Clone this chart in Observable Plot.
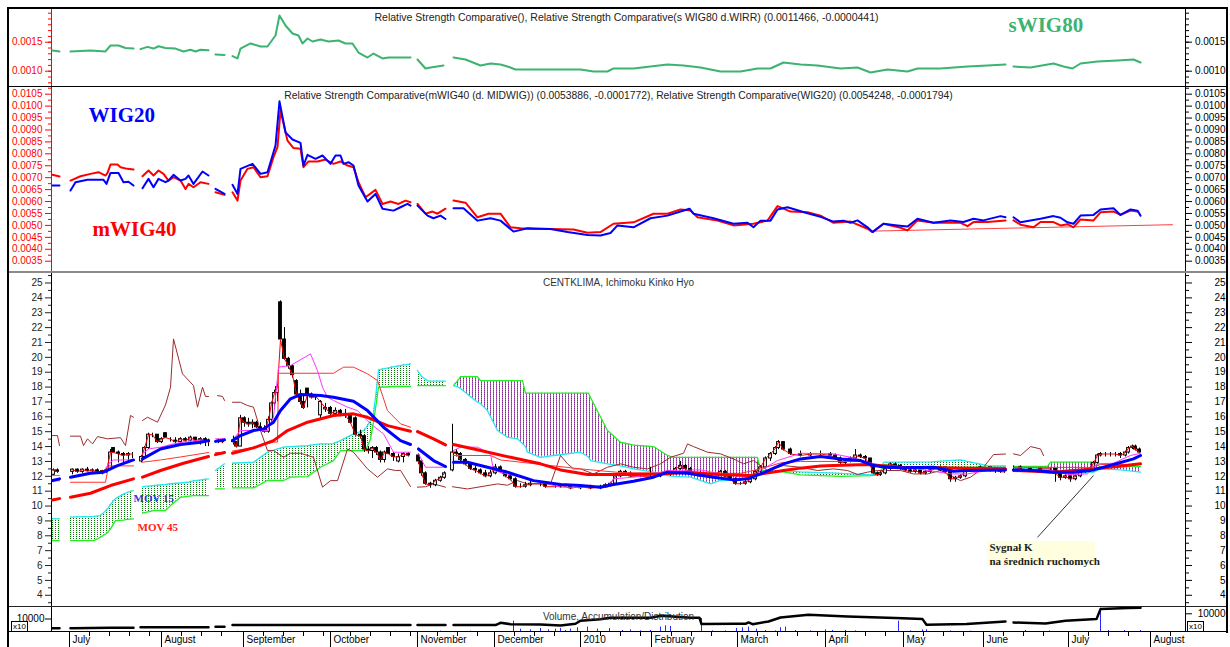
<!DOCTYPE html>
<html><head><meta charset="utf-8">
<script src="https://cdn.jsdelivr.net/npm/d3@7"></script>
<script src="https://cdn.jsdelivr.net/npm/@observablehq/plot@0.6"></script>
<style>
body{margin:0;background:#fff;}
#chart{position:relative;width:1230px;height:647px;overflow:hidden;background:#fff;font-family:"Liberation Sans",Arial,sans-serif;}
.ln{position:absolute;}
.box{position:absolute;border:1px solid #000;font-size:8px;line-height:9px;padding:0 1px;background:#fff;color:#000;}
</style></head>
<body><div id="chart"></div>
<script>
// ---------------- DATA (x = trading session index) ----------------
const monthTicks = [4.5, 27.5, 48, 69.75, 91.5, 110.75, 132.25, 150, 171.5, 193.5, 213, 233, 254.25, 274.75];
const monthLabels = ["July","August","September","October","November","December","2010","February","March","April","May","June","July","August"];

const sWIG80 = [[0.25,0.001357],[2,0.00134],null,[4.75,0.00134],[9.75,0.001357],[13.5,0.00134],[14.75,0.001443],[16.75,0.001443],[18.5,0.0014],[20.5,0.00139],null,[22.25,0.00138],[24,0.00142],[25.5,0.00139],[26.75,0.00143],[28.5,0.0014],[31,0.00139],[33,0.00134],[34.75,0.00137],[36,0.00134],[37.25,0.00137],[39.25,0.00136],null,[41,0.00129],[43.25,0.00128],null,[45.25,0.00126],[46.5,0.00122],[47.25,0.001391],[49.75,0.001478],[52.25,0.001426],[54,0.001426],[56,0.001615],[57,0.00196],[58.5,0.001788],[60.25,0.00165],[61.75,0.001615],[62.75,0.001478],[64,0.001564],[65.25,0.001512],[67.25,0.001547],[69.25,0.001512],[71.75,0.00153],[73.5,0.001478],[75.25,0.001478],[76.75,0.001322],[79,0.001236],[80.5,0.001305],[82.75,0.001219],[84.25,0.001236],[89.75,0.001236],null,[91.5,0.001202],[93.5,0.001047],[94.75,0.001064],[98,0.001098],null,[100.5,0.001236],[103.5,0.001202],[107.25,0.001098],[109.75,0.001133],[112.25,0.001116],[114,0.001081],[116,0.001029],[120.5,0.001029],[132.25,0.001029],[135.5,0.000995],[139,0.000995],[140.5,0.001047],[145.5,0.001047],[149.75,0.001081],[154,0.001116],[158,0.001098],[162.25,0.001064],[167.25,0.000995],[172.25,0.000995],[176.5,0.001047],[179.75,0.001047],[183,0.00115],[187.25,0.001116],[191.5,0.001098],[197.25,0.001047],[201.5,0.001064],[204.75,0.000978],[209,0.001029],[214,0.000995],[216.5,0.001047],[222.25,0.001047],[229,0.001081],[234,0.001098],[238.5,0.001116],null,[240.5,0.001081],[244.75,0.001064],[250.5,0.001133],[253,0.001081],[255.25,0.001047],[257.25,0.001133],[261.5,0.001167],[266.5,0.001184],[270.5,0.001202],[272.25,0.00115]];

const wig20 = [[0.25,0.00667],[2,0.00667],null,[4.75,0.00646],[6,0.00681],[9,0.00691],[13,0.00691],[13.75,0.00674],[14.75,0.0072],[16.75,0.0072],[18,0.00681],[19.25,0.00683],[20.5,0.00667],null,[22.75,0.00656],[24.25,0.00695],[25.5,0.0066],[26.75,0.00695],[28.5,0.00681],[29.25,0.00688],[30.5,0.00712],[32.25,0.00688],[33.5,0.00695],[34.25,0.00709],[35.5,0.00674],[37.75,0.00726],[39.25,0.00709],null,[41,0.00653],[43.25,0.00632],null,[45.25,0.0067],[46.5,0.00632],[47.25,0.00737],[50.25,0.00758],[52.25,0.00716],[54,0.00723],[56,0.00835],[57,0.0102],[58.5,0.0089],[60.25,0.0086],[62.25,0.00846],[63,0.00751],[64,0.00796],[66,0.00779],[67.75,0.00793],[69.75,0.00758],[71,0.00793],[72.25,0.00793],[73,0.00758],[74.25,0.00765],[75.5,0.00751],[76.75,0.00667],[79,0.006],[81,0.00632],[82.75,0.0057],[85.5,0.00562],[87.25,0.00576],[89,0.0059],[89.75,0.00583],null,[91.5,0.00583],[94,0.00541],[95.5,0.0053],[97.25,0.00541],[98.5,0.00527],null,[100.5,0.00572],[103,0.00572],[106.5,0.0052],[109.75,0.0053],[112.25,0.0052],[115.5,0.00474],[119,0.00488],[124.75,0.00485],[129,0.00472],[134,0.0046],[137.25,0.00458],[139.75,0.00468],[141.5,0.005],[145.5,0.00492],[149.75,0.0053],[154,0.00541],[157.25,0.00558],[159.5,0.0057],[160.5,0.00549],[165.5,0.0053],[170.5,0.00507],[174,0.00511],[175.5,0.00492],[177.25,0.0052],[179.75,0.0052],[181.5,0.00567],[184,0.00576],[189,0.00551],[192.25,0.00536],[195.5,0.00516],[198,0.0052],[199.75,0.00511],[201.5,0.00521],[204,0.00492],[205.25,0.00472],[208,0.00507],[211.5,0.005],[214,0.00495],[216.5,0.00528],[220.5,0.00511],[224.75,0.00521],[228,0.00514],[230.5,0.00528],[233,0.00521],[237.25,0.00539],[238.5,0.00534],null,[240.5,0.00534],[242.25,0.00513],[247.25,0.00528],[250.5,0.00539],[252.25,0.00532],[254,0.00513],[255.5,0.00507],[257.25,0.00541],[260.5,0.00544],[262.25,0.00567],[265.5,0.00572],[267.25,0.00544],[269.75,0.00567],[271.5,0.00562],[272.25,0.00541]];

const mwig40 = [[0.25,0.00712],[2,0.00705],null,[4.75,0.00688],[7.25,0.00706],[9.75,0.00716],[11.75,0.00723],[13.5,0.00709],[14,0.0072],[14.75,0.00755],[16.5,0.00755],[17.25,0.00744],[19,0.00737],[20.5,0.00734],null,[22.75,0.00706],[24.25,0.0073],[25.5,0.00709],[26.75,0.0073],[28,0.00716],[29.25,0.00688],[30.5,0.00702],[32.25,0.00688],[33.5,0.00653],[34.25,0.00674],[35.5,0.0066],[37.25,0.00681],[39.25,0.00674],null,[41,0.00639],[43.25,0.00628],null,[45.25,0.00639],[46.5,0.00604],[47.25,0.00688],[49,0.00737],[50.5,0.00744],[52.25,0.00702],[54,0.00706],[55.5,0.00786],[56.5,0.00828],[57.25,0.00982],[59,0.00855],[60.5,0.00824],[62.25,0.00821],[63,0.00744],[64.25,0.00768],[66.5,0.00768],[68.5,0.00776],[70.5,0.00758],[72.25,0.00768],[74,0.00751],[75.5,0.00744],[76.75,0.00681],[78.5,0.00618],[81,0.00649],[82.75,0.0059],[84.75,0.006],[86.75,0.0059],[88.5,0.00604],[89.75,0.00597],null,[91.5,0.0059],[93.5,0.00549],[95.25,0.00558],[96.5,0.00549],[98.5,0.0057],null,[100.5,0.00604],[103.5,0.00595],[106.5,0.00534],[109.25,0.00549],[112.25,0.00549],[114.75,0.00492],[117.25,0.00488],[120.5,0.00485],[124.75,0.00485],[130.5,0.00483],[134,0.00469],[137.25,0.00472],[140.5,0.00507],[145.5,0.00513],[150.5,0.00549],[154,0.00549],[157.25,0.00567],[159.75,0.00562],[161.5,0.00534],[166.5,0.0052],[170.5,0.005],[175.5,0.00507],[179,0.0052],[181.5,0.00581],[184.75,0.00558],[189,0.00555],[192.25,0.00541],[195.5,0.00511],[199.75,0.00516],[204,0.00486],[205.25,0.00472],[208,0.00507],[212.25,0.0049],[214,0.00479],[216.5,0.00521],[220.5,0.00511],[227.25,0.00511],[229,0.00497],[230.5,0.00514],[234,0.00514],[238.5,0.00521],null,[240.5,0.00521],[242.25,0.00503],[245.5,0.00492],[247.25,0.00514],[250.5,0.00514],[252.25,0.005],[254,0.00505],[255.5,0.00492],[257.25,0.00525],[260.5,0.00521],[262.25,0.00555],[265.5,0.00558],[267.25,0.00544],[269.75,0.00562],[271.5,0.00558]];

const mwigTrend = [[205.25,0.00476],[280.25,0.00503]];

// candles: [session, open, high, low, close]
const candles = [
[0.5,12.1,12.5,12.0,12.4],[1.5,12.4,12.5,12.2,12.3],null,
[5.25,12.3,12.5,12.1,12.45],[6.5,12.45,12.5,12.2,12.3],[7.75,12.3,12.5,12.2,12.45],[9,12.45,12.6,12.3,12.35],[10.25,12.35,12.5,12.1,12.4],[11.5,12.4,12.5,12.2,12.3],[12.75,12.3,12.4,12.1,12.35],[13.75,12.35,12.5,12.2,12.4],[14.75,12.5,13.8,12.5,13.6],[15.5,13.9,13.9,13.6,13.6],[16.75,13.6,13.7,12.9,13.5],[18,13.5,13.6,12.9,13.4],[19.25,13.4,13.6,12.9,13.5],[20.25,13.5,13.6,13.2,13.5],null,
[22.5,13.0,13.4,12.9,13.3],[23.25,13.3,14.0,13.2,13.9],[24.25,13.9,14.9,13.8,14.8],[25.25,14.8,14.9,14.6,14.8],[26.5,14.8,14.8,14.2,14.3],[27.5,14.3,14.6,14.2,14.5],[28.5,14.9,14.9,14.6,14.6],[29.75,14.5,14.6,14.3,14.5],[31,14.4,14.6,14.2,14.3],[32.25,14.3,14.6,14.3,14.5],[33.5,14.5,14.6,14.3,14.4],[34.75,14.4,14.7,14.3,14.6],[36,14.6,14.6,14.3,14.4],[37.25,14.4,14.6,14.1,14.5],[38.5,14.5,14.6,14.0,14.4],[39.25,14.4,14.5,14.0,14.3],null,
[41.75,14.3,14.5,14.2,14.4],[42.75,14.4,14.5,14.2,14.3],null,
[45.5,14.4,14.7,14.1,14.3],[46.25,14.3,14.3,13.9,14.0],[47.25,14.0,16.1,14.0,15.9],[48.25,15.9,16.0,15.3,15.6],[49.25,15.6,15.9,15.3,15.5],[50.25,15.5,15.8,15.2,15.6],[51.25,15.6,15.7,15.2,15.3],[52.25,15.3,15.6,15.0,15.1],[53.25,15.1,15.4,14.9,15.0],[54.25,15.0,16.0,14.9,15.8],[55,15.8,17.0,15.6,16.9],[55.75,16.9,17.8,16.5,17.6],[56.5,17.6,18.2,17.0,18.0],[57.25,23.7,23.8,21.2,21.2],[58.25,21.2,22.0,19.8,19.9],[59.25,19.9,20.0,19.2,19.4],[60.25,19.4,19.5,18.6,18.8],[61.25,18.4,18.5,17.4,17.5],[62.25,17.5,17.8,16.8,17.0],[63,17.0,17.5,16.5,16.6],[64,17.9,17.9,16.6,17.5],[65,17.5,17.6,17.2,17.3],[66,17.3,17.5,17.1,17.4],[67.25,16.1,17.1,15.8,17.0],[68.5,16.5,16.9,16.3,16.6],[69.75,16.6,16.7,16.0,16.2],[71,16.2,16.6,16.0,16.4],[72.25,16.4,16.5,16.0,16.2],[73.5,16.2,16.5,15.9,16.1],[74.75,16.1,16.2,15.5,15.6],[76,15.9,16.0,14.7,14.8],[77.25,14.8,15.1,14.5,14.7],[78.25,14.7,14.8,13.6,13.8],[79.25,13.8,14.0,13.5,13.7],[80.25,13.7,14.0,13.2,13.9],[81.25,13.9,14.0,13.4,13.6],[82.25,13.6,13.7,12.9,13.1],[83.25,13.1,13.7,12.9,13.6],[84.25,13.9,13.9,13.5,13.5],[85.5,13.5,13.6,13.0,13.3],[86.75,13.0,13.5,12.9,13.3],[88,13.3,13.6,12.9,13.5],[89.25,13.5,13.6,13.3,13.4],null,
[91.75,13.4,13.5,12.8,13.0],[92.5,13.0,13.0,12.0,12.2],[93.5,12.2,12.3,11.4,11.5],[94.75,11.5,11.6,11.2,11.4],[96,11.4,11.8,11.3,11.7],[97.25,11.7,12.0,11.6,11.9],[98.25,11.9,12.3,11.8,12.2],null,
[100.25,12.4,15.5,12.3,13.6],[101.25,13.6,13.8,13.3,13.5],[102.25,13.5,13.6,13.0,13.1],[103.5,13.1,13.2,12.7,12.8],[104.75,12.8,12.9,12.4,12.5],[106,12.5,12.7,12.2,12.4],[107.25,12.4,12.5,12.1,12.2],[108.5,12.2,12.4,11.9,12.0],[109.75,12.0,12.4,11.9,12.2],[111,12.2,12.8,12.1,12.6],[112.25,12.6,12.7,12.2,12.3],[113.5,12.3,12.4,11.9,12.0],[114.75,12.0,12.1,11.7,11.8],[116,11.8,11.9,11.2,11.3],[117.25,11.3,11.5,11.2,11.3],[118.5,11.3,11.6,11.2,11.4],[119.75,11.4,11.7,11.3,11.5],[122.25,11.5,11.6,11.3,11.5],[123.5,11.5,11.5,11.2,11.3],[126,11.3,11.5,11.2,11.3],[127.25,11.3,11.5,11.2,11.4],[129.75,11.4,11.4,11.1,11.2],[132.25,11.2,11.4,11.1,11.3],[134.75,11.3,11.4,11.1,11.2],[137.25,11.2,11.4,11.1,11.3],[138.5,11.3,11.5,11.2,11.4],[139.75,11.4,11.6,11.3,11.5],[141,11.5,12.1,11.5,12.0],[142.25,12.0,12.4,11.9,12.3],[143.5,12.3,12.4,12.1,12.2],[144.75,12.2,12.3,11.9,12.0],[147.25,12.0,12.2,11.9,12.0],[149.75,12.0,12.6,11.9,12.0],[152.25,12.0,12.2,11.9,12.1],[154.75,12.1,12.3,12.0,12.2],[156,12.2,12.6,12.1,12.5],[157.25,12.5,13.0,12.4,12.7],[158.5,12.7,12.8,12.4,12.5],[159.75,12.5,12.6,12.1,12.2],[162.25,12.2,12.3,11.9,12.0],[164.75,12.0,12.2,11.9,12.1],[167.25,12.1,12.4,12.0,12.3],[168.5,12.3,12.4,11.9,12.0],[169.75,12.0,12.0,11.7,11.8],[171,11.8,11.9,11.4,11.5],[172.25,11.5,11.6,11.4,11.5],[173.5,11.5,11.7,11.4,11.6],[174.75,11.6,11.9,11.5,11.8],[176,11.8,12.4,11.7,12.3],[177.25,12.3,12.7,12.2,12.6],[178.5,12.6,13.3,12.5,13.2],[179.75,13.2,13.6,13.0,13.5],[181,13.5,14.0,13.4,13.9],[181.75,13.9,14.4,13.8,14.3],[183,14.3,14.3,13.7,13.8],[184.75,13.8,13.9,13.4,13.5],[187.25,13.5,13.7,13.3,13.4],[189.75,13.4,13.6,13.3,13.5],[192.25,13.5,13.7,13.3,13.5],[194.75,13.5,13.6,13.3,13.4],[196,13.4,13.5,13.1,13.2],[197.25,13.2,13.3,12.8,12.9],[198.5,12.9,13.1,12.8,13.0],[199.75,13.0,13.3,12.9,13.2],[201,13.2,13.8,13.1,13.4],[202.25,13.4,13.5,13.2,13.3],[203.5,13.3,13.4,13.0,13.2],[204.75,13.2,13.2,12.6,12.7],[205.5,12.7,12.8,12.1,12.2],[206.5,12.2,12.3,12.0,12.1],[207.25,12.1,12.3,12.0,12.2],[208.5,12.2,12.6,12.1,12.5],[209.75,12.5,12.9,12.4,12.8],[211,12.8,12.9,12.6,12.7],[212.25,12.7,12.8,12.4,12.5],[213.5,12.5,12.6,12.3,12.4],[214.75,12.4,12.5,12.2,12.3],[216,12.3,12.5,12.2,12.4],[217.25,12.4,12.5,12.1,12.2],[218.5,12.2,12.4,12.1,12.3],[219.75,12.3,12.5,12.2,12.4],[222.25,12.4,12.7,12.3,12.6],[223.5,12.6,12.6,12.2,12.3],[224.75,12.3,12.4,11.6,11.8],[226,11.8,12.0,11.6,11.9],[227.25,11.9,12.1,11.8,12.0],[228.5,12.0,12.5,11.9,12.4],[229.75,12.4,12.6,12.3,12.5],[232.25,12.5,12.7,12.4,12.6],[234.75,12.6,12.6,12.3,12.5],[236,12.5,12.6,12.2,12.4],[237.25,12.4,12.5,12.2,12.3],[238.25,12.3,12.4,12.2,12.3],null,
[240.5,12.6,12.7,12.4,12.6],[242.25,12.6,12.7,12.4,12.5],[244.75,12.5,12.6,12.3,12.4],[247.25,12.4,12.6,12.3,12.5],[249.75,12.5,12.6,12.3,12.5],[251,12.5,12.5,11.6,12.2],[252.25,12.2,12.2,11.7,11.9],[253.5,11.9,12.1,11.8,12.0],[254.75,12.0,12.0,11.6,11.8],[256,11.8,12.1,11.7,12.0],[257.25,12.0,12.4,11.9,12.3],[258.5,12.3,12.5,12.2,12.4],[259.75,12.4,12.6,12.3,12.5],[260.5,12.5,13.0,12.4,12.9],[261.5,12.9,13.5,12.8,13.4],[262.25,13.4,13.6,13.3,13.5],[263.5,13.5,13.6,13.3,13.5],[264.75,13.5,13.6,13.3,13.5],[266,13.5,13.6,13.3,13.5],[267.25,13.5,13.6,13.2,13.4],[268.5,13.4,13.7,13.3,13.6],[269.25,13.6,14.0,13.5,13.9],[270.25,13.9,14.1,13.8,14.0],[271,14.0,14.1,13.7,13.8],[272,13.8,13.9,13.5,13.6]
];

const mov15 = [[0.25,11.72],[2,11.83],null,[4.75,11.94],[9.75,12.21],[13,12.28],[16.5,12.72],[20.5,13.1],null,[22.75,13.17],[27.25,13.84],[32.25,14.14],[37.25,14.29],[39.25,14.4],null,[41,14.35],[43.25,14.45],null,[45.25,14.4],[47.25,14.74],[50.5,15.08],[53,15.19],[55.5,15.64],[57.25,16.42],[59.75,17.21],[62.25,17.5],[67.25,17.43],[70.5,17.32],[75.5,17.05],[79,16.42],[83,15.3],[87.25,14.4],[89.75,14.14],null,[91.75,13.84],[95.5,13.06],[98.5,12.66],null,[100.5,12.95],[104,12.95],[109,12.61],[114,12.28],[120.5,11.71],[127.25,11.45],[132.25,11.38],[137.25,11.27],[140.5,11.45],[145.5,11.67],[150.5,11.94],[154,12.28],[159,12.21],[165.5,11.94],[170.5,11.76],[174,11.83],[177.25,12.16],[183,12.84],[187.25,13.17],[192.25,13.33],[197.25,13.17],[202.25,13.06],[205.5,12.72],[209,12.61],[212.25,12.57],[220.5,12.61],[225.5,12.34],[229,12.39],[238.5,12.43],null,[240.5,12.43],[245.5,12.39],[250.5,12.28],[255.5,12.28],[260.5,12.43],[265.5,12.79],[270.5,13.17],[272.25,13.4]];

const mov45 = [[0.25,10.41],[2,10.5],null,[4.75,10.59],[9.75,10.86],[14.75,11.38],[20.5,11.83],null,[22.75,11.94],[27.25,12.39],[33,12.88],[39.25,13.33],null,[41,13.46],[43.25,13.6],null,[45.25,13.55],[50.5,13.91],[55.5,14.4],[59,15.08],[64,15.64],[70.5,16.09],[75.5,16.2],[79,15.97],[84,15.41],[89.75,15.03],null,[91.5,15.01],[95.5,14.52],[98.5,14.11],null,[100.5,14.14],[107.25,13.73],[114.75,13.28],[122.25,12.84],[127.25,12.43],[134,12.12],[145.5,12.12],[152.25,12.16],[159,12.28],[166.5,12.12],[174.75,12.05],[183,12.39],[187.25,12.55],[192.25,12.7],[195.5,12.72],[204,12.79],[212.25,12.61],[220.5,12.57],[229,12.54],[238.5,12.5],null,[240.5,12.39],[245.5,12.34],[250.5,12.28],[255.5,12.39],[260.5,12.5],[266.5,12.66],[272.25,12.84]];

const tenkan = [[0.25,12.05],[2,12.05],null,[4.75,11.94],[7.25,12.1],[9.75,12.28],[13,12.28],[14.25,12.84],[15.5,13.1],[20.5,13.1],null,[22.75,13.51],[24.25,13.84],[27.25,13.96],[30.5,14.18],[34,14.36],[37.25,14.4],[39.25,14.4],null,[41,14.52],[43.25,14.52],null,[45.25,14.45],[47.25,15.08],[54,15.08],[55.5,15.97],[56.75,19.34],[59.75,19.45],[64.75,20.23],[66.5,19.11],[67.75,17.99],[69,17.32],[70.5,17.1],[74,16.65],[76.5,16.42],[79.75,15.53],[83,14.85],[85.5,13.62],[89.75,13.62],null,[91.75,13.51],[93.5,12.61],[98.5,12.61],null,[100.5,13.73],[102.25,13.96],[106.5,13.96],[109.75,13.51],[110.5,12.39],[115.5,12.05],[120.5,11.71],[127.25,11.27],[139,11.27],[140.5,11.83],[145.5,11.94],[150.5,12.16],[154,12.39],[162.25,12.43],[167.25,12.16],[170.5,12.05],[175.5,11.94],[177.25,12.39],[181.5,13.06],[187.25,13.55],[195.5,13.51],[199.75,13.28],[204,12.95],[209,12.61],[216.5,12.5],[224.75,12.16],[229,12.16],[234,12.39],[238.5,12.39],null,[240.5,12.39],[250.5,12.39],[254,12.12],[259,12.16],[261.5,12.84],[265.5,12.88],[269.75,13.4],[272.25,13.55]];

const kijun = [[0.25,11.7],[2,11.7],null,[4.75,11.6],[13.5,11.6],[14.25,12.7],[20.5,12.7],null,[22.75,12.95],[27.25,13.1],[32.25,13.3],[39.25,13.6],null,[41,13.6],[43.25,13.6],null,[45.25,13.7],[49.75,13.9],[55.5,14.3],[56.5,14.3],[56.75,18.93],[70.5,18.93],[73,19.34],[75.5,19.34],[79,18.89],[81.5,18.44],[84,16.42],[87.25,15.53],[89.75,15.3],null,[91.5,15.08],[98.5,14.18],null,[100.5,13.4],[109.75,13.4],[112.25,13.1],[122.25,12.8],[132.25,12.5],[142.25,12.25],[157.25,12.2],[172.25,12.2],[177.25,12.5],[182.25,12.9],[187.25,13.0],[202.25,13.0],[207.25,12.6],[238.5,12.6],null,[240.5,12.6],[259.75,12.6],[262.25,12.8],[272.25,12.8]];

const chikou = [[0.25,14.74],[1.5,14.74],[2,14.07],null,[4.75,14.7],[7.25,14.7],[8,14.07],[9,14.52],[10.25,14.18],[11.5,14.67],[14,14.52],[17.25,14.6],[18.5,14.07],[19.75,16.09],[20.5,15.97],null,[22.75,15.75],[24,15.97],[26.5,15.64],[28.5,16.8],[29.75,17.99],[30.5,21.24],[32.75,18.89],[35.5,18.1],[36.5,16.65],[37.75,17.99],[38.5,17.37],[39.25,17.37],null,[41.5,17.43],[42.75,17.37],[43.25,17.1],null,[45.25,16.98],[47.25,16.98],[49,16.76],[50.5,16.65],[52.25,15.08],[54,13.73],[55.5,13.73],[58,13.28],[59.75,13.55],[62.25,13.55],[65.5,13.28],[67.75,11.27],[69.75,11.71],[71.5,11.71],[74,13.84],[75.5,13.62],[79,12.5],[81.5,11.94],[84,12.5],[86,12.39],[87.25,12.4],[89.75,11.31],null,[91.5,11.27],[93.5,11.3],[95.5,11.49],[98.5,11.27],null,[100.25,11.3],[104,11.15],[111.5,11.49],[114,11.4],[116.5,11.71],[119,11.49],[124.75,11.49],[127.25,13.4],[129,12.84],[130.5,12.5],[132.25,12.5],[135.5,12.16],[139,12.61],[142.25,12.84],[145.5,12.61],[149,12.5],[152.25,12.84],[154.75,13.28],[158,13.55],[159,14.18],[160.5,14.0],[164,13.62],[167.25,13.51],[170.5,13.17],[173,12.84],[175.5,13.06],[179,12.39],[183,12.72],[187.25,12.61],[191.5,12.39],[195.5,12.5],[199,12.39],[201.5,12.12],[204,12.28],[206.5,12.39],[212.25,12.39],[215.5,12.16],[219,12.16],[222.25,12.39],[224.75,12.05],[227.25,11.71],[229.75,11.94],[231.5,12.28],[233,12.61],[235.5,13.46],[238.5,13.5],null,[240.5,13.51],[242.25,13.4],[244.75,14.0],[247.25,13.84],[248,13.4]];

// cloud: [session, senkou A, senkou B]
const kumo = [[0.25,9.14,7.68],[2,9.14,7.68],null,
[4.75,9.25,7.68],[10.5,9.3,7.68],[12.25,9.36,7.9],[14,9.81,8.2],[14.75,10.1,8.46],[15.5,10.37,8.8],[16,10.5,9.02],[18,10.8,9.05],[19,10.93,9.1],[20.5,11.04,9.14],null,
[22.75,11.31,9.52],[25.5,11.38,9.7],[28.5,11.45,9.7],[29.75,11.5,10.03],[32.25,11.55,10.59],[34,11.6,10.65],[35.5,11.7,10.7],[39.25,11.83,10.7],null,
[41,12.39,11.15],[43.25,12.84,11.15],null,
[45.25,12.88,11.22],[50.5,12.95,11.22],[54,13.62,11.72],[58,13.96,11.72],[59.75,14.0,11.94],[64,14.07,11.98],[67.25,14.18,12.61],[70.5,14.2,13.06],[72.25,14.4,13.73],[75.5,14.85,13.73],[78,15.08,13.73],[78.5,15.2,13.73],[79.75,15.75,14.5],[80.5,16.2,15.64],[81.5,18.44,17.5],[81.75,19.16,17.99],[86,19.4,18.04],[89.75,19.56,18.04],null,
[91.5,19.11,18.1],[92.75,18.66,18.1],[94.25,18.4,18.1],[98.5,18.4,18.1],null,
[100.5,18.1,18.1],[101.75,17.99,18.5],[102.25,17.9,18.71],[106.5,16.98,18.71],[107.25,16.9,18.44],[109,16.42,18.44],[111.5,15.08,18.44],[114,14.63,18.44],[116.5,14.52,18.44],[117.75,14.2,18.44],[118.5,14.0,17.59],[119,13.62,17.59],[122.25,13.28,17.59],[125.5,13.4,17.59],[127.25,13.45,17.59],[132.25,13.62,17.59],[134.25,13.3,17.59],[134.75,13.06,17.3],[139,12.84,15.08],[142.25,12.7,14.29],[145.5,12.5,14.1],[150.5,12.28,14.0],[154,12.05,13.4],[155.5,12.0,13.28],[159.75,11.94,13.28],[164.75,11.49,13.28],[167.25,11.72,13.28],[170.5,11.76,13.28],[174.75,11.94,13.28],[176.5,12.05,13.28],[177.25,12.16,12.39],[183,12.39,12.3],[187.25,12.3,12.1],[197.25,12.2,12.0],[204.75,12.1,12.05],[207.25,12.3,12.1],[208,12.95,12.79],[212.25,12.95,12.66],[219.75,12.97,12.61],[227.25,13.1,12.6],[234,12.72,12.61],[238.5,12.7,12.61],null,
[240.5,12.5,12.66],[249,12.5,12.66],[249.75,12.45,12.95],[250.5,12.28,12.95],[254,12.16,12.95],[260.5,12.28,12.95],[262.25,12.5,12.61],[267.25,12.43,12.66],[272.25,12.28,12.66]];

const adLine = [[0.25,2750],[2,2750],null,[4.75,2750],[14.75,3000],[20.5,3000],null,[22.25,3250],[39.25,3250],null,[41,3500],[43.25,3500],null,[45.25,4350],[89.75,4350],null,[91.5,4350],[98.5,4350],null,[100.5,4350],[111,4350],[112.25,5500],[114.75,4800],[122.25,4600],[127.25,4200],[131,5000],[132.25,6500],[137.25,7250],[139.75,8000],[149.75,8000],[152.5,9000],[159.75,8000],[162,8000],[162.5,4850],[171,5000],[173.5,5000],[174.25,5700],[175.25,4800],[179.25,6150],[182.25,8150],[189.25,9500],[199,8650],[211,7850],[217.75,7350],[218.75,4500],[228.75,4850],[238.5,6150],null,[240.5,5650],[248.5,5150],[253.5,6500],[261.25,7350],[262.25,12350],[269.25,12850],[272.25,13000]];

const volume = [[9,900],[24.75,900],[46.5,900],[54.75,900],[59.75,900],[72.25,900],[86,900],[97.25,1000],[104.75,1000],[115.5,8400],[117.25,2500],[119.75,2000],[122.25,3000],[124.25,2000],[126,2500],[127.25,3000],[128.5,1500],[129.75,2500],[131.5,3500],[134,4000],[136.5,2500],[139.5,3000],[142.75,1500],[144.75,2000],[147.25,1200],[149.75,1500],[152.25,4000],[153.5,5000],[154.75,4500],[162.5,10400],[165.25,1200],[168.5,1200],[171.25,3000],[172.75,3500],[174.25,4000],[176.25,2500],[178.5,1500],[181,1200],[182.25,3500],[183.5,4000],[186,1500],[189.75,1200],[193.5,2000],[195.25,1500],[198.5,1500],[201,1200],[211.75,8400],[214.75,1200],[217.75,2000],[218.75,2000],[224.75,1200],[229.75,1000],[243.5,1500],[249.5,1200],[262.25,18000],[264.25,1500],[268.25,1500],[272.25,1500]];

const signalNote = {lines: ["Sygnał K", "na średnich ruchomych"]};

// ---------------- RENDER ----------------
const chart = document.getElementById("chart");
const W = 1230, ML = 51, MR = 45;
const XD = [0, 283.5];
const FONT = "'Liberation Sans', Arial, sans-serif";
const SERIF = "'Liberation Serif', 'Times New Roman', serif";
const pts = a => a.map(p => p ? {x: p[0], y: p[1]} : {x: NaN, y: NaN});
const style = {background: "transparent", fontFamily: FONT, fontSize: "10px", overflow: "visible"};

function mount(svg, top) {
  svg.style.position = "absolute"; svg.style.left = "0px"; svg.style.top = top + "px";
  svg.style.maxWidth = "none";
  chart.appendChild(svg); return svg;
}
function yAxes(ticks, minor, fmt, leftColor) {
  return [
    Plot.axisY({anchor: "left", ticks, tickSize: 6, tickPadding: 3, tickFormat: fmt, color: leftColor, fontSize: 10, label: null}),
    Plot.axisY({anchor: "left", ticks: minor, tickSize: 3, tickFormat: () => "", color: leftColor, label: null}),
    Plot.axisY({anchor: "right", ticks, tickSize: 6, tickFormat: () => "", color: "#000", label: null}),
    Plot.axisY({anchor: "right", ticks: minor, tickSize: 3, tickFormat: () => "", color: "#000", label: null}),
    Plot.axisY({anchor: "right", ticks, tickSize: 0, tickPadding: 40, textAnchor: "end", tickFormat: fmt, fill: "#000", fontSize: 10, label: null})
  ];
}
function hline(top, h, color) {
  const d = document.createElement("div"); d.className = "ln";
  d.style.cssText = `left:8px;top:${top}px;width:1219px;height:${h}px;background:${color}`;
  chart.appendChild(d);
}
const label = (txt, o) => Plot.text([txt], {text: d => d, lineAnchor: "middle", ...o});

// Panel 1: sWIG80 RSC
{
  const y1 = [0.0010, 0.0015];
  const m1 = d3.range(8, 21).map(i => i / 10000);
  const svg = Plot.plot({
    width: W, height: 79, marginLeft: ML, marginRight: MR, marginTop: 0, marginBottom: 0, style,
    x: {domain: XD, axis: null}, y: {domain: [0.000719, 0.002081], axis: null},
    marks: [
      Plot.ruleX([XD[0]], {stroke: "#ff0000"}),
      Plot.ruleX([XD[1]], {stroke: "#000"}),
      ...yAxes(y1, m1, d => d.toFixed(4), "#ff0000"),
      Plot.line(pts(sWIG80), {x: "x", y: "y", stroke: "#3cb371", strokeWidth: 2}),
      label("Relative Strength Comparative(), Relative Strength Comparative(s WIG80 d.WIRR) (0.0011466, -0.0000441)", {frameAnchor: "top", dy: 9, dx: 8, fill: "#222", fontSize: 10.5}),
      label("sWIG80", {frameAnchor: "top-left", dx: 957, dy: 17, textAnchor: "start", fill: "#3cb371", fontSize: 21, fontWeight: "bold", fontFamily: SERIF})
    ]
  });
  mount(svg, 8);
}

// Panel 2: WIG20 / mWIG40 RSC
{
  const y2 = d3.range(0, 15).map(i => (35 + 5 * i) / 10000);
  const m2 = d3.range(0, 15).map(i => (37.5 + 5 * i) / 10000);
  const svg = Plot.plot({
    width: W, height: 185, marginLeft: ML, marginRight: MR, marginTop: 0, marginBottom: 0, style,
    x: {domain: XD, axis: null}, y: {domain: [0.003026, 0.01078], axis: null},
    marks: [
      Plot.ruleX([XD[0]], {stroke: "#ff0000"}),
      Plot.ruleX([XD[1]], {stroke: "#000"}),
      ...yAxes(y2, m2, d => d.toFixed(4), "#ff0000"),
      Plot.line(pts(mwigTrend), {x: "x", y: "y", stroke: "#ff4040", strokeWidth: 1}),
      Plot.line(pts(mwig40), {x: "x", y: "y", stroke: "#ff0000", strokeWidth: 2}),
      Plot.line(pts(wig20), {x: "x", y: "y", stroke: "#0000ff", strokeWidth: 2}),
      label("Relative Strength Comparative(mWIG40 (d. MIDWIG)) (0.0053886, -0.0001772), Relative Strength Comparative(WIG20) (0.0054248, -0.0001794)", {frameAnchor: "top", dy: 8, fill: "#222", fontSize: 10.35}),
      label("WIG20", {frameAnchor: "top-left", dx: 37, dy: 28, textAnchor: "start", fill: "#0000ff", fontSize: 21, fontWeight: "bold", fontFamily: SERIF}),
      label("mWIG40", {frameAnchor: "top-left", dx: 41, dy: 142, textAnchor: "start", fill: "#ff0000", fontSize: 21, fontWeight: "bold", fontFamily: SERIF})
    ]
  });
  mount(svg, 87);
}

// Panel 3: Ichimoku
{
  const y3 = d3.range(4, 26);
  const m3 = d3.range(3.5, 26, 1);
  const candleRows = candles.map(c => c ? {x: c[0], o: c[1], h: c[2], l: c[3], c: c[4]} : {x: NaN, o: NaN, h: NaN, l: NaN, c: NaN});
  const solid = candleRows.filter(d => !isNaN(d.x));
  const kumoRows = kumo.map(k => k ? {x: k[0], a: k[1], b: k[2]} : {x: NaN, a: NaN, b: NaN});
  const svg = Plot.plot({
    width: W, height: 335, marginLeft: ML, marginRight: MR, marginTop: 0, marginBottom: 0, style,
    x: {domain: XD, axis: null}, y: {domain: [3.178, 25.706], axis: null},
    marks: [
      Plot.ruleX([XD[0]], {stroke: "#000"}),
      Plot.ruleX([XD[1]], {stroke: "#000"}),
      ...yAxes(y3, m3, d => String(d), "#222"),
      Plot.areaY(kumoRows, {x: "x", y1: "b", y2: d => Math.max(d.a, d.b), fill: "url(#hatchG)"}),
      Plot.areaY(kumoRows, {x: "x", y1: "a", y2: d => Math.max(d.a, d.b), fill: "url(#hatchP)"}),
      Plot.line(kumoRows, {x: "x", y: "b", stroke: "#22ee22", strokeWidth: 1.3}),
      Plot.line(kumoRows, {x: "x", y: "a", stroke: "#22e8f0", strokeWidth: 1.3}),
      Plot.line(pts(chikou), {x: "x", y: "y", stroke: "#9b2d2d", strokeWidth: 1}),
      Plot.ruleX(solid, {x: "x", y1: "l", y2: "h", stroke: "#000", strokeWidth: 1}),
      Plot.rect(solid, {x1: d => d.x - 0.35, x2: d => d.x + 0.35, y1: "o", y2: "c", fill: d => d.c >= d.o ? "#fff" : "#000", stroke: "#000", strokeWidth: 1}),
      Plot.line(candleRows, {x: "x", y: "c", stroke: "#ff0000", strokeWidth: 1}),
      Plot.line(pts(kijun), {x: "x", y: "y", stroke: "#ff3333", strokeWidth: 1}),
      Plot.line(pts(tenkan), {x: "x", y: "y", stroke: "#ff33ff", strokeWidth: 1}),
      Plot.line(pts(mov45), {x: "x", y: "y", stroke: "#ff0000", strokeWidth: 3}),
      Plot.line(pts(mov15), {x: "x", y: "y", stroke: "#0000ff", strokeWidth: 3}),
      label("CENTKLIMA, Ichimoku Kinko Hyo", {frameAnchor: "top", dy: 10, fill: "#333", fontSize: 10}),
      label("MOV 15", {frameAnchor: "top-left", dx: 82, dy: 226, textAnchor: "start", fill: "#3333dd", fontSize: 11, fontWeight: "bold", fontFamily: SERIF}),
      label("MOV 45", {frameAnchor: "top-left", dx: 86, dy: 255, textAnchor: "start", fill: "#ff2020", fontSize: 11, fontWeight: "bold", fontFamily: SERIF}),
      Plot.link([signalNote], {x1: () => 246.5, y1: () => 7.9, x2: () => 260.5, y2: () => 12.05, stroke: "#333", strokeWidth: 1}),
      Plot.rect([signalNote], {x1: () => 234, x2: () => 261, y1: () => 5.93, y2: () => 7.62, fill: "#ffffe0"}),
      Plot.text([signalNote], {x: () => 234.5, y: () => 7.21, text: d => d.lines[0], textAnchor: "start", fill: "#222", fontSize: 11, fontWeight: "bold", fontFamily: SERIF}),
      Plot.text([signalNote], {x: () => 234.5, y: () => 6.27, text: d => d.lines[1], textAnchor: "start", fill: "#222", fontSize: 11, fontWeight: "bold", fontFamily: SERIF})
    ]
  });
  const ns = "http://www.w3.org/2000/svg";
  const defs = document.createElementNS(ns, "defs");
  defs.innerHTML = '<pattern id="hatchG" patternUnits="userSpaceOnUse" width="3" height="2"><rect x="1" y="0" width="1" height="1" fill="#007a00"/></pattern>' +
    '<pattern id="hatchP" patternUnits="userSpaceOnUse" width="3" height="2"><rect x="1" y="0" width="1" height="1" fill="#8a2a9a"/><rect x="1" y="1" width="1" height="1" fill="#d050d0"/></pattern>';
  svg.insertBefore(defs, svg.firstChild);
  mount(svg, 272);
}

// Panel 4: Volume bars (left scale)
{
  const svg = Plot.plot({
    width: W, height: 40, marginLeft: ML, marginRight: MR, marginTop: 0, marginBottom: 15, style,
    x: {domain: XD, axis: null}, y: {domain: [0, 18520], axis: null},
    marks: [
      Plot.ruleX([XD[0]], {stroke: "#000"}),
      Plot.ruleX([XD[1]], {stroke: "#000"}),
      Plot.ruleX(volume.map(v => ({x: v[0], v: v[1]})), {x: "x", y1: 0, y2: "v", stroke: "#2a2aff", strokeWidth: 1}),
      Plot.axisY({anchor: "left", ticks: [10000], tickSize: 6, tickPadding: 1, tickFormat: d => String(d), color: "#000", fontSize: 10, label: null})
    ]
  });
  mount(svg, 607);
}
// Panel 4: Accumulation/Distribution (right scale) + time axis
{
  const monthLabel = new Map(monthTicks.map((t, i) => [t, monthLabels[i]]));
  const weekTicks = [];
  for (let i = 0; i < monthTicks.length; i++) {
    const a = monthTicks[i], b = i + 1 < monthTicks.length ? monthTicks[i + 1] : XD[1];
    for (let t = a + 5; t < b - 1.5; t += 5) weekTicks.push(t);
  }
  const svg = Plot.plot({
    width: W, height: 40, marginLeft: ML, marginRight: MR, marginTop: 0, marginBottom: 15, style,
    x: {domain: XD, axis: null}, y: {domain: [650, 13150], axis: null},
    marks: [
      Plot.line(pts(adLine), {x: "x", y: "y", stroke: "#000", strokeWidth: 2.5}),
      Plot.axisY({anchor: "right", ticks: [10000], tickSize: 6, tickFormat: () => "", color: "#000", label: null}),
      Plot.axisY({anchor: "right", ticks: [10000], tickSize: 0, tickPadding: 40, textAnchor: "end", tickFormat: d => String(d), fill: "#000", fontSize: 10, label: null}),
      label("Volume, Accumulation/Distribution", {frameAnchor: "top", dy: 9, fill: "#333", fontSize: 10}),
      Plot.axisX({anchor: "bottom", ticks: monthTicks, tickSize: 15, tickFormat: () => "", color: "#000", label: null}),
      Plot.axisX({anchor: "bottom", ticks: weekTicks, tickSize: 4, tickFormat: () => "", color: "#000", label: null}),
      Plot.axisX({anchor: "bottom", ticks: monthTicks, tickSize: 0, tickPadding: 3, textAnchor: "start", dx: 3, tickFormat: d => monthLabel.get(d), fill: "#000", fontSize: 10, label: null})
    ]
  });
  mount(svg, 607);
}

// frame lines
hline(7, 2, "#000");
hline(86, 1, "#000");
hline(271, 2, "#8a8a8a");
hline(606, 1, "#222");
hline(631, 1, "#000");
{
  const l = document.createElement("div"); l.className = "ln"; l.style.cssText = "left:7px;top:7px;width:2px;height:640px;background:#000"; chart.appendChild(l);
  const r = document.createElement("div"); r.className = "ln"; r.style.cssText = "left:1226px;top:7px;width:2px;height:626px;background:#000"; chart.appendChild(r);
  const b1 = document.createElement("div"); b1.className = "box"; b1.style.cssText += "left:11px;top:621px;"; b1.textContent = "x10"; chart.appendChild(b1);
  const b2 = document.createElement("div"); b2.className = "box"; b2.style.cssText += "left:1187px;top:621px;"; b2.textContent = "x10"; chart.appendChild(b2);
}
</script></body></html>
